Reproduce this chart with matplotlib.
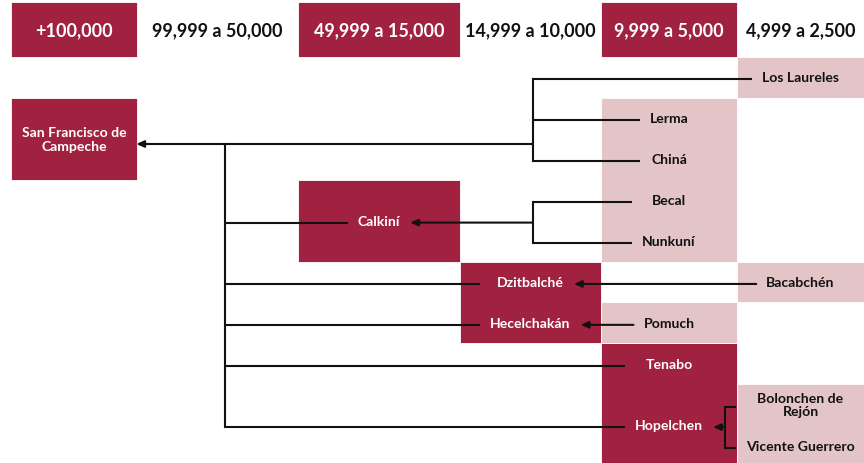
import matplotlib.pyplot as plt
from matplotlib.patches import Rectangle

# rangos de poblacion (encabezados)
rangos = ['+100,000', '99,999 a 50,000', '49,999 a 15,000',
          '14,999 a 10,000', '9,999 a 5,000', '4,999 a 2,500']

# localidades, rango al que pertenecen, fila y a quien se conectan
localidades = ['San Francisco de\nCampeche', 'Los Laureles', 'Lerma', 'Chiná',
               'Calkiní', 'Becal', 'Nunkuní', 'Dzitbalché', 'Bacabchén',
               'Hecelchakán', 'Pomuch', 'Tenabo', 'Hopelchen',
               'Bolonchen de\nRejón', 'Vicente Guerrero']
rango = [0, 5, 4, 4, 2, 4, 4, 3, 5, 3, 4, 4, 4, 5, 5]
fila = [1.5, 0, 1, 2, 3.5, 3, 4, 5, 5, 6, 6, 7, 8.5, 8, 9]
padre = [None, 0, 0, 0, 0, 4, 4, 0, 7, 0, 9, 0, 0, 12, 12]
cabecera = [True, False, False, False, True, False, False, True, False,
            True, False, True, True, False, False]

# ---- layout (pixeles) ----
W, H = 864, 464
bordes_x = [11, 137, 298, 460, 601, 737, 864]
enc_y0, enc_y1 = 3, 58
fila_y0, fila_h = 58, 40.9
ROJO = '#A12140'
ROSA = '#E3C5C8'
LINEA = '#111111'
FUENTE = 'Lato'

# cajas: (columna, fila inicial, fila final, color)
cajas = [(0, 1, 3, ROJO), (2, 3, 5, ROJO), (3, 5, 7, ROJO), (4, 7, 10, ROJO),
         (5, 0, 1, ROSA), (4, 1, 5, ROSA), (5, 5, 6, ROSA), (4, 6, 7, ROSA),
         (5, 8, 10, ROSA)]
# x de cada corchete: (padre, es cabecera)
corchete_x = {(0, False): 533, (0, True): 225, (4, False): 533, (12, False): 725}
flecha_y = {0: 145}
gap = 10
dy_linea = 2   # las lineas van un poco debajo del centro del texto


def fy(r):
    return fila_y0 + fila_h * (r + 0.5)


def ly(r):
    return fy(r) + dy_linea


fig = plt.figure(figsize=(W / 100, H / 100), dpi=100)
ax = fig.add_axes([0, 0, 1, 1])
ax.set_xlim(0, W)
ax.set_ylim(H, 0)
ax.axis('off')

# encabezados
for i, txt in enumerate(rangos):
    x0, x1 = bordes_x[i], bordes_x[i + 1]
    relleno = i % 2 == 0
    if relleno:
        ax.add_patch(Rectangle((x0, enc_y0), x1 - x0, enc_y1 - enc_y0,
                               facecolor=ROJO, edgecolor='white', lw=0.6))
    ax.text((x0 + x1) / 2, (enc_y0 + enc_y1) / 2, txt, ha='center', va='center',
            fontsize=13, fontweight='bold', family=FUENTE,
            color='white' if relleno else '#111111')

for col, r0, r1, c in cajas:
    y0 = fila_y0 + fila_h * r0
    y1 = min(fila_y0 + fila_h * r1, H + 2)
    ax.add_patch(Rectangle((bordes_x[col], y0), bordes_x[col + 1] - bordes_x[col],
                           y1 - y0, facecolor=c, edgecolor='white', lw=0.6))

textos = []
for i, nombre in enumerate(localidades):
    col = rango[i]
    cx = (bordes_x[col] + bordes_x[col + 1]) / 2
    t = ax.text(cx, fy(fila[i]), nombre, ha='center', va='center',
                fontsize=10.1, fontweight='bold', family=FUENTE,
                linespacing=1.15,
                color='white' if cabecera[i] else '#111111')
    textos.append(t)

fig.canvas.draw()
rend = fig.canvas.get_renderer()
inv = ax.transData.inverted()
izq, der = [], []
for t in textos:
    bb = t.get_window_extent(rend)
    (a, _), (b, _) = inv.transform([[bb.x0, 0], [bb.x1, 0]])
    izq.append(min(a, b))
    der.append(max(a, b))

lw = 1.5
flecha = dict(arrowstyle='-|>,head_length=0.45,head_width=0.2',
              color=LINEA, lw=lw, shrinkA=0, shrinkB=0)
grupos = {}
for i, p in enumerate(padre):
    if p is None:
        continue
    grupos.setdefault((p, cabecera[i]), []).append(i)

for (p, cab), hijos in grupos.items():
    y_p = flecha_y.get(p, ly(fila[p]))
    punta = der[p] + gap
    # fin de cada linea hijo: a la izquierda del texto, igual por columna
    fin = {}
    for h in hijos:
        fin[rango[h]] = min(fin.get(rango[h], 1e9), izq[h] - gap)
    bx = corchete_x.get((p, cab))
    if bx is None:
        h = hijos[0]
        ax.annotate('', xy=(punta, y_p), xytext=(fin[rango[h]], y_p),
                    arrowprops=flecha)
        continue
    ys = [ly(fila[h]) for h in hijos] + [y_p]
    ax.plot([bx, bx], [min(ys), max(ys)], color=LINEA, lw=lw,
            solid_capstyle='projecting')
    for h in hijos:
        ax.plot([bx, fin[rango[h]]], [ly(fila[h])] * 2, color=LINEA, lw=lw,
                solid_capstyle='butt')
    if not cab or p != 0:
        ax.annotate('', xy=(punta, y_p), xytext=(bx, y_p), arrowprops=flecha)

fig.savefig('out.png', dpi=100, facecolor='white')
